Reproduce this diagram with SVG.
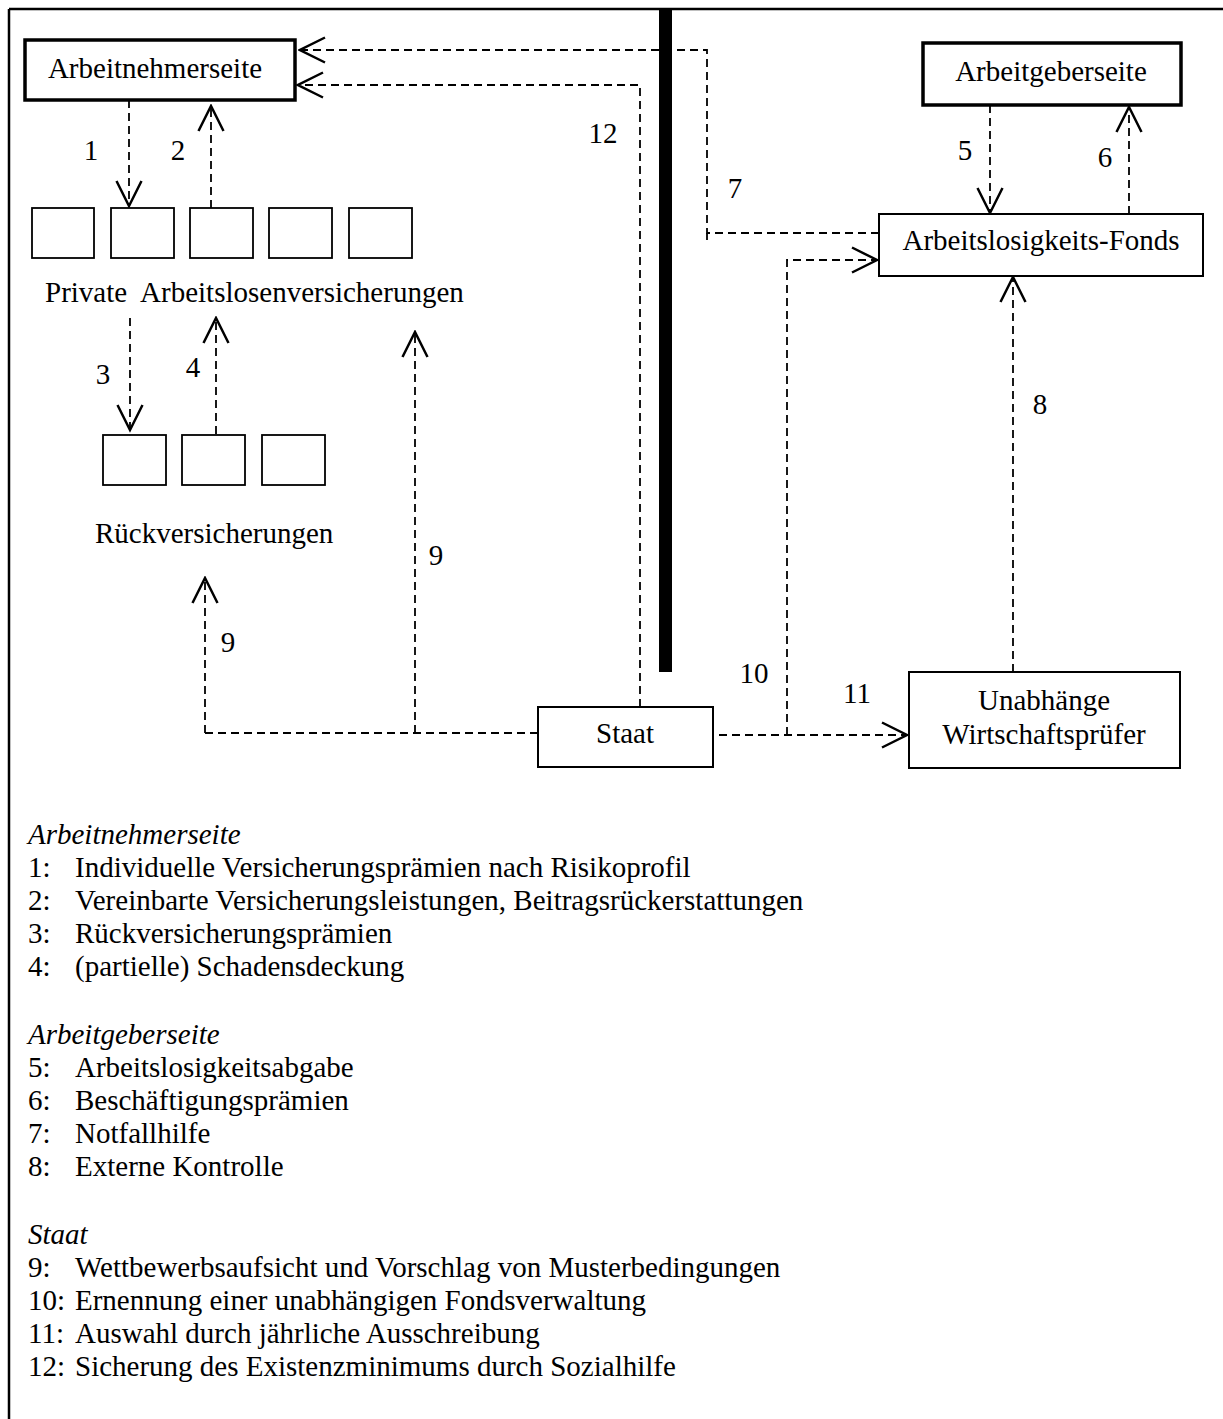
<svg xmlns="http://www.w3.org/2000/svg" width="1223" height="1419" viewBox="0 0 1223 1419">
<style>
text{font-family:"Liberation Serif","Times New Roman",serif;font-size:29px;fill:#000}
.c{text-anchor:middle}
.it{font-style:italic}
.box{fill:#fff;stroke:#000;stroke-width:2}
.thick{stroke-width:3.5}
.sm{fill:#fff;stroke:#000;stroke-width:1.8}
.dash{fill:none;stroke:#000;stroke-width:1.8;stroke-dasharray:8 5}
.arr{marker-end:url(#ah)}
</style>
<defs>
<marker id="ah" markerUnits="userSpaceOnUse" markerWidth="30" markerHeight="30" viewBox="-22 -12 24 24" refX="0" refY="0" orient="auto">
<path d="M-20,-10 L0,0 L-20,10" fill="none" stroke="#000" stroke-width="2" stroke-dasharray="none"/>
</marker>
</defs>
<rect width="1223" height="1419" fill="#fff"/>
<g id="frame">
<line x1="9" y1="9" x2="1223" y2="9" stroke="#000" stroke-width="2.5"/>
<line x1="9" y1="9" x2="9" y2="1419" stroke="#000" stroke-width="2.5"/>
<rect x="659" y="9" width="13" height="663" fill="#000"/>
</g>
<g id="connectors">
<path class="dash arr" d="M129,100 V206"/>
<path class="dash arr" d="M211,208 V106"/>
<path class="dash arr" d="M130,318 V430"/>
<path class="dash arr" d="M216,434 V318"/>
<path class="dash arr" d="M990,105 V213"/>
<path class="dash arr" d="M1129,214 V107"/>
<path class="dash arr" d="M879,233 H707 V50 H300"/>
<path class="dash" d="M707,240 V233"/>
<path class="dash arr" d="M640,707 V85 H298"/>
<path class="dash arr" d="M787,735 V260 H877"/>
<path class="dash arr" d="M719,735 H907"/>
<path class="dash arr" d="M1013,672 V277"/>
<path class="dash" d="M538,733 H205"/>
<path class="dash arr" d="M205,733 V578"/>
<path class="dash arr" d="M415,733 V332"/>
<text class="c" x="91" y="160">1</text>
<text class="c" x="178" y="160">2</text>
<text class="c" x="103" y="384">3</text>
<text class="c" x="193" y="377">4</text>
<text class="c" x="965" y="160">5</text>
<text class="c" x="1105" y="167">6</text>
<text class="c" x="735" y="198">7</text>
<text class="c" x="1040" y="414">8</text>
<text class="c" x="228" y="652">9</text>
<text class="c" x="436" y="565">9</text>
<text class="c" x="754" y="683">10</text>
<text class="c" x="857" y="703">11</text>
<text class="c" x="603" y="143">12</text>
</g>
<g id="arbeitnehmerseite">
<rect class="box thick" x="25" y="40" width="270" height="60"/>
<text class="c" x="155" y="78">Arbeitnehmerseite</text>
</g>
<g id="private-versicherungen">
<rect class="sm" x="32" y="208" width="62" height="50"/>
<rect class="sm" x="111" y="208" width="63" height="50"/>
<rect class="sm" x="190" y="208" width="63" height="50"/>
<rect class="sm" x="269" y="208" width="63" height="50"/>
<rect class="sm" x="349" y="208" width="63" height="50"/>
<text x="45" y="302" xml:space="preserve">Private  Arbeitslosenversicherungen</text>
</g>
<g id="rueckversicherungen">
<rect class="sm" x="103" y="435" width="63" height="50"/>
<rect class="sm" x="182" y="435" width="63" height="50"/>
<rect class="sm" x="262" y="435" width="63" height="50"/>
<text x="95" y="543">Rückversicherungen</text>
</g>
<g id="arbeitgeberseite">
<rect class="box thick" x="923" y="43" width="258" height="62"/>
<text class="c" x="1051" y="81">Arbeitgeberseite</text>
</g>
<g id="fonds">
<rect class="box" x="879" y="214" width="324" height="62"/>
<text class="c" x="1041" y="250">Arbeitslosigkeits-Fonds</text>
</g>
<g id="staat">
<rect class="box" x="538" y="707" width="175" height="60"/>
<text class="c" x="625" y="743">Staat</text>
</g>
<g id="wirtschaftspruefer">
<rect class="box" x="909" y="672" width="271" height="96"/>
<text class="c" x="1044" y="710">Unabhänge</text>
<text class="c" x="1044" y="744">Wirtschaftsprüfer</text>
</g>
<g id="legend">
<text class="it" x="28" y="844">Arbeitnehmerseite</text>
<text x="28" y="877">1:<tspan x="75">Individuelle Versicherungsprämien nach Risikoprofil</tspan></text>
<text x="28" y="910">2:<tspan x="75">Vereinbarte Versicherungsleistungen, Beitragsrückerstattungen</tspan></text>
<text x="28" y="943">3:<tspan x="75">Rückversicherungsprämien</tspan></text>
<text x="28" y="976">4:<tspan x="75">(partielle) Schadensdeckung</tspan></text>
<text class="it" x="28" y="1044">Arbeitgeberseite</text>
<text x="28" y="1077">5:<tspan x="75">Arbeitslosigkeitsabgabe</tspan></text>
<text x="28" y="1110">6:<tspan x="75">Beschäftigungsprämien</tspan></text>
<text x="28" y="1143">7:<tspan x="75">Notfallhilfe</tspan></text>
<text x="28" y="1176">8:<tspan x="75">Externe Kontrolle</tspan></text>
<text class="it" x="28" y="1244">Staat</text>
<text x="28" y="1277">9:<tspan x="75">Wettbewerbsaufsicht und Vorschlag von Musterbedingungen</tspan></text>
<text x="28" y="1310">10:<tspan x="75">Ernennung einer unabhängigen Fondsverwaltung</tspan></text>
<text x="28" y="1343">11:<tspan x="75">Auswahl durch jährliche Ausschreibung</tspan></text>
<text x="28" y="1376">12:<tspan x="75">Sicherung des Existenzminimums durch Sozialhilfe</tspan></text>
</g>
</svg>
